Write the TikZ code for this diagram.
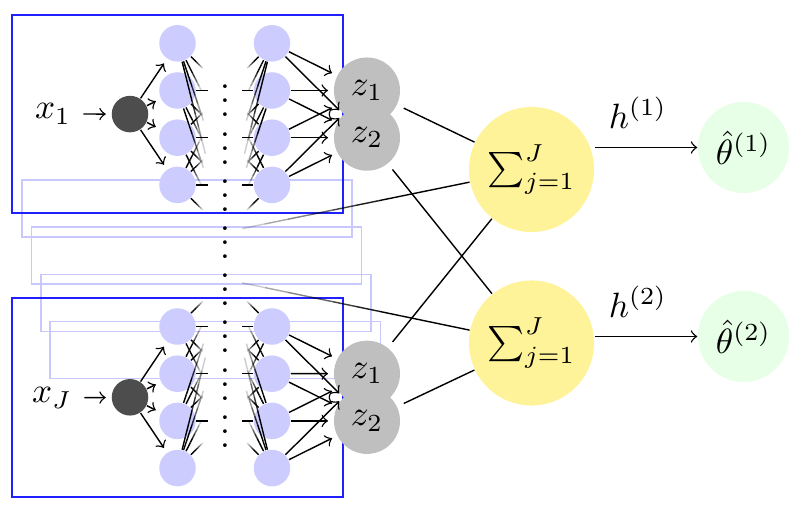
\documentclass[tikz,border=0pt]{standalone}
\usetikzlibrary{calc}
\definecolor{UnitLav}{HTML}{CCCCFF}
\definecolor{StackLav}{HTML}{C8C8FF}
\definecolor{BlockBlue}{HTML}{2020FF}
\definecolor{InputDark}{HTML}{4D4D4D}
\definecolor{LatentGray}{HTML}{BFBFBF}
\definecolor{SumYellow}{HTML}{FFF39A}
\definecolor{OutGreen}{HTML}{E6FFE6}

% faded connector: opaque near the first node, gone at fraction #1 of the way
\newcommand{\fadeline}[3][0.75]{%
  \path (#2) -- (#3) coordinate[pos=0] (fs) coordinate[pos=1] (fe);
  \foreach \k in {0,...,9}{%
    \pgfmathsetmacro{\ta}{\k/10}%
    \pgfmathsetmacro{\tb}{(\k+1)/10}%
    \pgfmathsetmacro{\op}{max(0,min(1,(#1-(\k+0.5)/10)/(#1*2/3)))}%
    \draw[opacity=\op] ($(fs)!\ta!(fe)$) -- ($(fs)!\tb!(fe)$);
  }%
}

\begin{document}
\begin{tikzpicture}[
    x=0.01cm, y=-0.01cm,
    flow/.style={->},
    feed/.style={->, shorten >=1.5pt},
    unit/.style={circle, fill=UnitLav, minimum size=0.365cm, inner sep=0pt},
    input/.style={circle, fill=InputDark, minimum size=0.365cm, inner sep=0pt},
    latent/.style={circle, fill=LatentGray, minimum size=0.66cm, inner sep=0pt},
    pool/.style={circle, fill=SumYellow, minimum size=1.25cm, inner sep=0pt},
    estimate/.style={circle, fill=OutGreen, minimum size=0.91cm, inner sep=0pt},
    block/.style={draw=BlockBlue},
    stack/.style={draw=StackLav}
]
\useasboundingbox (0,0) rectangle (800,510);

% Stacked copies of the inner network (j = 2, ..., J-1)
\foreach \k in {0,...,3}
    \draw[stack] (22+9.4*\k,180+47.2*\k) rectangle ++(330,57);

% Outer frames of the first and the last network
\draw[block] (12,15) rectangle (343,213);
\draw[block] (12,298) rectangle (343,497);

% Hidden units and the vdots column between them
\foreach \r in {1,2,3,4,7,8,9,10}{
    \node[unit] (a\r) at (177.5,{43.3+47.2*(\r-1)}) {};
    \node[unit] (b\r) at (272,{43.3+47.2*(\r-1)}) {};
}
\foreach \r in {2,...,9}
    \node (v\r) at (225,{43.3+47.2*(\r-1)}) {$\vdots$};

% Inputs
\node[input] (in1) at (130,114.1) {};
\node[input] (inJ) at (130,397.3) {};
\node (x1) at (53,114) {$x_1$};
\node (xJ) at (52,398) {$x_J$};
\draw[feed] (x1) -- (in1);
\draw[feed] (xJ) -- (inJ);
\foreach \r in {1,...,4} \draw[feed] (in1) -- (a\r);
\foreach \r in {7,...,10} \draw[feed] (inJ) -- (a\r);

% Connections into the elided layers fade out
\foreach \i in {1,...,4}
    \foreach \j in {2,...,5}{
        \ifnum\i=\j \draw (a\i) -- (v\j); \draw (b\i) -- (v\j);
        \else \fadeline{a\i}{v\j} \fadeline{b\i}{v\j} \fi
    }
\foreach \i in {7,...,10}
    \foreach \j in {6,...,9}{
        \ifnum\i=\j \draw (a\i) -- (v\j); \draw (b\i) -- (v\j);
        \else \fadeline{a\i}{v\j} \fadeline{b\i}{v\j} \fi
    }

% Outputs of each network
\node[latent] (z11) at (367,90.5) {$z_1$};
\node[latent] (z12) at (367,137.7) {$z_2$};
\node[latent] (zJ1) at (367,373.7) {$z_1$};
\node[latent] (zJ2) at (367,420.9) {$z_2$};
\foreach \r in {1,...,4}{
    \draw[feed] (b\r) -- (z11);
    \draw[feed] (b\r) -- (z12);
}
\foreach \r in {7,...,10}{
    \draw[feed] (b\r) -- (zJ1);
    \draw[feed] (b\r) -- (zJ2);
}

% Pooling over the networks and the estimates
\node[pool] (s1) at (531.5,169.5) {$\sum_{j=1}^J$};
\node[pool] (s2) at (531.5,343) {$\sum_{j=1}^J$};
\node[estimate] (t1) at (743.5,147.5) {$\hat\theta^{(1)}$};
\node[estimate] (t2) at (743.5,336.5) {$\hat\theta^{(2)}$};

\draw[shorten <=2pt] (z11) -- (s1);
\draw[shorten <=2pt] (z12) -- (s2);
\draw[shorten <=2pt] (zJ1) -- (s1);
\draw[shorten <=2pt] (zJ2) -- (s2);
\fadeline[1.1]{s1}{v5}
\fadeline[1.1]{s2}{v6}

\draw[flow] (s1.east |- t1) -- node[pos=0.42, above=1.8pt] {$h^{(1)}$} (t1);
\draw[flow] (s2.east |- t2) -- node[pos=0.42, above=1.8pt] {$h^{(2)}$} (t2);

\end{tikzpicture}
\end{document}
